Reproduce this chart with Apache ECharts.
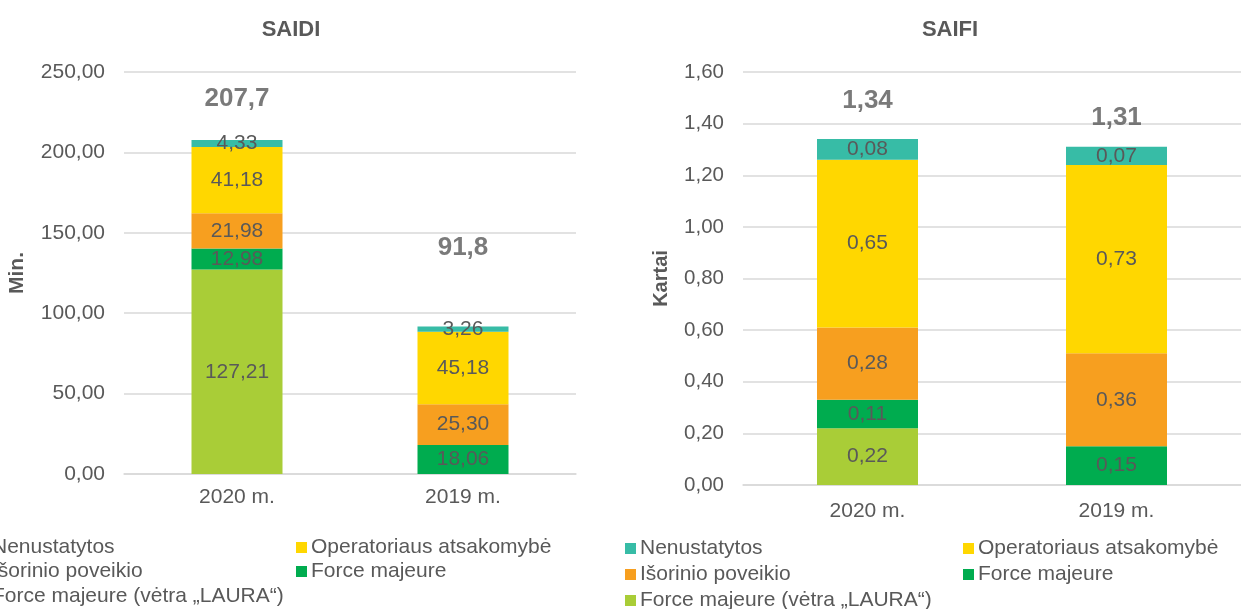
<!DOCTYPE html>
<html>
<head>
    <meta charset="utf-8">
    <title>SAIDI / SAIFI</title>
    <script src="https://cdn.jsdelivr.net/npm/echarts@6/dist/echarts.min.js"></script>
    <style>
        html, body { margin: 0; padding: 0; background: #fff; }
        #chart { width: 1241px; height: 609px; }
    </style>
</head>
<body>
    <div id="chart"></div>
    <script>
        // duomenys
        var categories = ['2020 m.', '2019 m.'];
        var seriesNames = ['Force majeure (vėtra „LAURA“)', 'Force majeure', 'Išorinio poveikio', 'Operatoriaus atsakomybė', 'Nenustatytos'];
        var colors = ['#A9CD37', '#00AC4F', '#F79F1F', '#FFD700', '#37BCA6'];

        // SAIDI, min.
        var saidiLaura = [127.21, null];
        var saidiForce = [12.98, 18.06];
        var saidiIsorinio = [21.98, 25.30];
        var saidiOperator = [41.18, 45.18];
        var saidiNenust = [4.33, 3.26];
        var saidiTotals = [207.7, 91.8];

        // SAIFI, kartai
        var saifiLaura = [0.22, null];
        var saifiForce = [0.11, 0.15];
        var saifiIsorinio = [0.28, 0.36];
        var saifiOperator = [0.65, 0.73];
        var saifiNenust = [0.08, 0.07];
        var saifiTotals = [1.34, 1.31];

        // legendos tvarka: stulpelis 1, stulpelis 2
        var legendCol1 = ['Nenustatytos', 'Išorinio poveikio', 'Force majeure (vėtra „LAURA“)'];
        var legendCol2 = ['Operatoriaus atsakomybė', 'Force majeure'];

        var txt = '#595959';
        var font = '"Liberation Sans", Arial, sans-serif';

        function comma(v, d) {
            return Number(v).toFixed(d).replace('.', ',');
        }

        var saidiSets = [saidiLaura, saidiForce, saidiIsorinio, saidiOperator, saidiNenust];
        var saifiSets = [saifiLaura, saifiForce, saifiIsorinio, saifiOperator, saifiNenust];

        function barSeries(sets, idx, stack, barWidth) {
            return sets.map(function (vals, i) {
                return {
                    name: seriesNames[i],
                    type: 'bar',
                    stack: stack,
                    xAxisIndex: idx,
                    yAxisIndex: idx,
                    barWidth: barWidth,
                    itemStyle: { color: colors[i] },
                    label: {
                        show: true,
                        position: 'inside',
                        color: txt,
                        fontFamily: font,
                        fontSize: 21,
                        formatter: function (p) { return p.value == null ? '' : comma(p.value, 2); }
                    },
                    data: vals
                };
            });
        }

        function totalSeries(totals, idx, decimals, lifts) {
            return {
                type: 'scatter',
                xAxisIndex: idx,
                yAxisIndex: idx,
                symbolSize: 0,
                silent: true,
                z: 10,
                label: {
                    show: true,
                    position: 'top',
                    color: txt,
                    fontFamily: font,
                    fontWeight: 'bold',
                    fontSize: 26,
                    formatter: function (p) { return comma(p.value, decimals); }
                },
                data: totals.map(function (v, i) {
                    return { value: v, label: { distance: lifts[i] } };
                })
            };
        }

        // viena legenda kiekvienam įrašui, kad eilutės nesusilankstytų
        function legendBlock(x1, x2, tops) {
            var out = [];
            legendCol1.forEach(function (n, i) {
                out.push({ left: x1, top: tops[i], data: [n] });
            });
            legendCol2.forEach(function (n, i) {
                out.push({ left: x2, top: tops[i], data: [n] });
            });
            return out.map(function (l) {
                l.icon = 'rect';
                l.itemWidth = 11;
                l.itemHeight = 11;
                l.padding = 0;
                l.textStyle = { color: txt, fontFamily: font, fontSize: 21, padding: [0, 0, 0, -1] };
                return l;
            });
        }

        var chart = echarts.init(document.getElementById('chart'));

        var option = {
            animation: false,
            title: [
                { text: 'SAIDI', left: 286, top: 14, textAlign: 'center',
                  textStyle: { color: txt, fontFamily: font, fontWeight: 'bold', fontSize: 22 } },
                { text: 'SAIFI', left: 945, top: 14, textAlign: 'center',
                  textStyle: { color: txt, fontFamily: font, fontWeight: 'bold', fontSize: 22 } }
            ],
            legend: legendBlock(-23, 296, [537, 561, 586])
                .concat(legendBlock(625, 963, [538, 564, 590])),
            grid: [
                { left: 124, top: 72, width: 452, height: 402 },
                { left: 743, top: 72, width: 508, height: 413 }
            ],
            xAxis: [0, 1].map(function (i) {
                return {
                    type: 'category',
                    gridIndex: i,
                    data: categories,
                    axisTick: { show: false },
                    axisLine: { lineStyle: { color: '#D9D9D9', width: 1.5 } },
                    axisLabel: { color: txt, fontFamily: font, fontSize: 21, margin: i === 0 ? 13 : 16 }
                };
            }),
            yAxis: [
                {
                    type: 'value', gridIndex: 0, min: 0, max: 250, interval: 50,
                    name: 'Min.', nameLocation: 'middle', nameGap: 96, nameRotate: 90,
                    nameTextStyle: { color: txt, fontFamily: font, fontWeight: 'bold', fontSize: 21 },
                    axisLabel: { color: txt, fontFamily: font, fontSize: 21, margin: 19,
                                 formatter: function (v) { return comma(v, 2); } },
                    splitLine: { lineStyle: { color: '#D9D9D9', width: 1.5 } }
                },
                {
                    type: 'value', gridIndex: 1, min: 0, max: 1.6, interval: 0.2,
                    name: 'Kartai', nameLocation: 'middle', nameGap: 72, nameRotate: 90,
                    nameTextStyle: { color: txt, fontFamily: font, fontWeight: 'bold', fontSize: 20 },
                    axisLabel: { color: txt, fontFamily: font, fontSize: 20.5, margin: 19,
                                 formatter: function (v) { return comma(v, 2); } },
                    splitLine: { lineStyle: { color: '#D9D9D9', width: 1.5 } }
                }
            ],
            series: []
                .concat(barSeries(saidiSets, 0, 'saidi', 91))
                .concat(barSeries(saifiSets, 1, 'saifi', 101))
                .concat([
                    totalSeries(saidiTotals, 0, 1, [28, 66]),
                    totalSeries(saifiTotals, 1, 2, [25, 16])
                ])
        };

        chart.setOption(option);
    </script>
</body>
</html>
